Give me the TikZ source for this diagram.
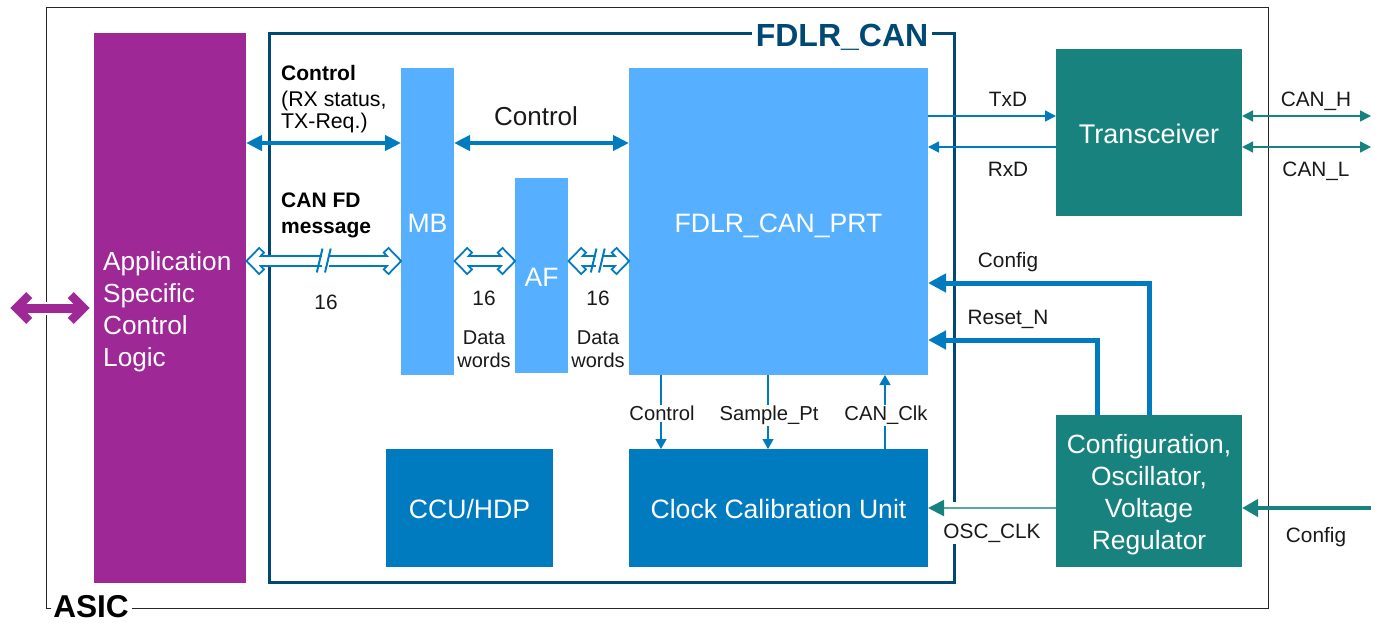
\documentclass[tikz,border=0pt]{standalone}
\usepackage{fontspec}
\setmainfont{Liberation Sans}
\usetikzlibrary{arrows.meta,calc}
\definecolor{lblue}{HTML}{56B0FF}
\definecolor{mblue}{HTML}{007BC0}
\definecolor{dblue}{HTML}{004975}
\definecolor{turq}{HTML}{18837E}
\definecolor{lturq}{HTML}{5AA8A4}
\definecolor{purp}{HTML}{9E2896}
\newcommand{\fs}[1]{\fontsize{#1}{#1}\selectfont}
\newcommand{\lo}[2][10.5pt]{\raisebox{-#1}[0pt][0pt]{#2}}
\newcommand{\hollowarrow}[2]{%
  \draw[mblue,line width=12.5pt] ([xshift=14]#1) -- ([xshift=-14]#2);
  \draw[mblue,line width=8.5pt,line join=miter] ([shift={(17,-11.3)}]#1) -- ([shift={(6,0)}]#1) -- ([shift={(17,11.3)}]#1);
  \draw[mblue,line width=8.5pt,line join=miter] ([shift={(-17,-11.3)}]#2) -- ([shift={(-6,0)}]#2) -- ([shift={(-17,11.3)}]#2);
  \draw[white,line width=4.6pt,line join=miter] ([shift={(15.7,-10)}]#1) -- ([shift={(6,0)}]#1) -- ([shift={(15.7,10)}]#1);
  \draw[white,line width=4.6pt,line join=miter] ([shift={(-15.7,-10)}]#2) -- ([shift={(-6,0)}]#2) -- ([shift={(-15.7,10)}]#2);
  \draw[white,line width=7.6pt] ([xshift=7]#1) -- ([xshift=-7]#2);
}
\newcommand{\slashes}[1]{%
  \fill[white] ([shift={(-3.5,-8)}]#1) rectangle ([shift={(3.5,8)}]#1);
  \draw[mblue,line width=2pt] ([shift={(-8.2,11.5)}]#1) -- ([shift={(-2.5,-12.5)}]#1);
  \draw[mblue,line width=2pt] ([shift={(0,11.5)}]#1) -- ([shift={(5.7,-12.5)}]#1);
}
\tikzset{
  block/.style={anchor=north west,inner sep=0pt,outer sep=0pt,text=white,align=center,font=\fs{26.6}},
  frameline/.style={draw,inner sep=0pt,outer sep=0pt,anchor=north west,fill=none},
  lab/.style={inner sep=0pt,anchor=mid,font=\fs{20.8},text=black!90},
  wlab/.style={lab,fill=white,inner sep=1.5pt,font=\fs{20.2}},
  thin/.style={line width=1.5pt,mblue,-{Triangle[length=11pt,width=11pt]}},
  thinv/.style={line width=1.3pt,mblue,-{Triangle[length=10pt,width=11pt]}},
  can/.style={line width=1.5pt,turq,{Triangle[length=11pt,width=11pt]}-{Triangle[length=11pt,width=11pt]}},
  ctl/.style={line width=4pt,mblue,{Triangle[length=16pt,width=15pt]}-{Triangle[length=16pt,width=15pt]}},
  fat/.style={line width=5pt,mblue,-{Triangle[length=18pt,width=18pt]}},
}
\begin{document}
\begin{tikzpicture}[x=1pt,y=-1pt]
\useasboundingbox (0,0) rectangle (1375,622);
% frames
\node[frameline,black!85,line width=0.9pt,minimum width=1222pt,minimum height=601pt] (asic) at (46,7) {};
\node[frameline,dblue,line width=3pt,minimum width=685pt,minimum height=549.5pt] (fdlr) at (269,33) {};
% blocks
\node[block,fill=purp,minimum width=152pt,minimum height=550pt] (logic) at (94,33) {};
\node[anchor=west,inner sep=0pt,text=white,align=left,font=\fontsize{26.2}{32}\selectfont] (logictext) at (103,312) {Application\\Specific\\Control\\Logic};
\node[block,fill=lblue,minimum width=53pt,minimum height=307pt] (mb) at (401,68) {\lo{MB}};
\node[block,fill=lblue,minimum width=53pt,minimum height=195pt] (af) at (515,178) {\lo[11pt]{AF}};
\node[block,fill=lblue,minimum width=299pt,minimum height=307pt] (prt) at (629,68) {\lo{FDLR\_CAN\_PRT}};
\node[block,fill=mblue,minimum width=167pt,minimum height=118pt] (ccu) at (386,449) {\lo{CCU/HDP}};
\node[block,fill=mblue,minimum width=299pt,minimum height=118pt] (ccal) at (629,449) {\lo{Clock Calibration Unit}};
\node[block,fill=turq,minimum width=186pt,minimum height=167pt,font=\fs{27}] (trx) at (1056,49) {\lo[11.3pt]{Transceiver}};
\node[block,fill=turq,minimum width=186pt,minimum height=152pt] (cfg) at (1056,415) {};
\node[inner sep=0pt,text=white,align=center,font=\fontsize{26.4}{32}\selectfont] (cfgtext) at (1149,495) {Configuration,\\Oscillator,\\Voltage\\Regulator};
% helper coordinates
\coordinate (yctl) at (0,143);
\coordinate (ymsg) at (0,261);
\coordinate (ytx) at (0,116);
\coordinate (yrx) at (0,147);
\coordinate (yconf) at (0,283);
\coordinate (yrst) at (0,340);
\coordinate (yosc) at (0,508);
\coordinate (xctl) at (661,0);
\coordinate (xspl) at (768,0);
\coordinate (xclk) at (885,0);
\coordinate (xconf) at (1149,0);
\coordinate (xrst) at (1097,0);
\coordinate (pl) at (10,308);
\coordinate (pr) at (90,308);
\coordinate (rightend) at (1371,0);
\coordinate (gapa) at (0,502);
\coordinate (gapb) at (0,544);
\coordinate (mk1) at (325,261);
\coordinate (mk2) at (599,261);
\coordinate (ba) at ([xshift=-0.8]logic.east |- ymsg);
\coordinate (bb) at ([xshift=1.5]mb.west |- ymsg);
\coordinate (bc) at ([xshift=-0.8]mb.east |- ymsg);
\coordinate (bd) at ([xshift=1.5]af.west |- ymsg);
\coordinate (be) at ([xshift=-0.8]af.east |- ymsg);
\coordinate (bf) at ([xshift=1.5]prt.west |- ymsg);
% frame gap at OSC_CLK
\draw[white,line width=5pt] (fdlr.east |- gapa) -- (fdlr.east |- gapb);
% connectors
\draw[ctl] (logic.east |- yctl) -- (mb.west |- yctl);
\draw[ctl] (mb.east |- yctl) -- (prt.west |- yctl);
\draw[thin] (prt.east |- ytx) -- (trx.west |- ytx);
\draw[thin] (trx.west |- yrx) -- (prt.east |- yrx);
\draw[can] (trx.east |- ytx) -- (rightend |- ytx);
\draw[can] (trx.east |- yrx) -- (rightend |- yrx);
\draw[fat] (xconf |- cfg.north) -- (xconf |- yconf) -- (prt.east |- yconf);
\draw[fat] (xrst |- cfg.north) -- (xrst |- yrst) -- (prt.east |- yrst);
\draw[thinv] (xctl |- prt.south) -- (xctl |- ccal.north);
\draw[thinv] (xspl |- prt.south) -- (xspl |- ccal.north);
\draw[thinv] (xclk |- ccal.north) -- (xclk |- prt.south);
\draw[line width=2pt,lturq,-{Triangle[length=16pt,width=16pt,color=turq]}] (cfg.west |- yosc) -- (ccal.east |- yosc);
\draw[line width=4pt,turq,-{Triangle[length=16pt,width=17pt]}] (rightend |- yosc) -- (cfg.east |- yosc);
% hollow bus arrows
\hollowarrow{ba}{bb}
\hollowarrow{bc}{bd}
\hollowarrow{be}{bf}
\slashes{mk1}
\slashes{mk2}
% external purple arrow
\draw[white,line width=13pt] ([xshift=20]pl) -- ([xshift=-20]pr);
\draw[purp,line width=9pt] ([xshift=6]pl) -- ([xshift=-6]pr);
\draw[purp,line width=8.6pt,line join=miter] ([shift={(19.3,-12.9)}]pl) -- ([shift={(6.4,0)}]pl) -- ([shift={(19.3,12.9)}]pl);
\draw[purp,line width=8.6pt,line join=miter] ([shift={(-19.3,-12.9)}]pr) -- ([shift={(-6.4,0)}]pr) -- ([shift={(-19.3,12.9)}]pr);
% frame titles
\node[inner sep=0pt,fill=white,minimum width=180pt,font=\fs{32}\bfseries,text=dblue,anchor=mid] (fdlrlab) at (842,44) {FDLR\_CAN};
\node[inner sep=0pt,fill=white,minimum width=81pt,font=\fs{31.6}\bfseries,text=black,anchor=mid] (asiclab) at (91,615) {ASIC};
% labels
\node[anchor=mid west,inner sep=0pt,font=\fs{21}\bfseries] (l1) at (281,78) {Control};
\node[anchor=mid west,inner sep=0pt,font=\fs{21.3}] (l2) at (281,104) {(RX status,};
\node[anchor=mid west,inner sep=0pt,font=\fs{21.3}] (l3) at (281,126) {TX-Req.)};
\node[anchor=mid west,inner sep=0pt,font=\fs{21}\bfseries] (l4) at (281,205) {CAN FD};
\node[anchor=mid west,inner sep=0pt,font=\fs{21}\bfseries] (l5) at (281,231) {message};
\node[lab,font=\fs{26}] (l6) at (536,123) {Control};
\node[lab] (n1) at (326,307) {16};
\node[lab] (n2) at (484,303) {16};
\node[lab] (n3) at (598,303) {16};
\node[lab,font=\fs{20}] (d1) at (484,342) {Data};
\node[lab,font=\fs{20}] (w1) at (484,365) {words};
\node[lab,font=\fs{20}] (d2) at (598,342) {Data};
\node[lab,font=\fs{20}] (w2) at (598,365) {words};
\node[lab] (txd) at (1008,104) {TxD};
\node[lab] (rxd) at (1008,174) {RxD};
\node[lab] (canh) at (1316,104) {CAN\_H};
\node[lab] (canl) at (1316,174) {CAN\_L};
\node[lab] (conf1) at (1008,265) {Config};
\node[lab] (rstn) at (1008,322) {Reset\_N};
\node[wlab] (cctl) at (662,418) {Control};
\node[wlab] (cspl) at (769,418) {Sample\_Pt};
\node[wlab] (cclk) at (886,418) {CAN\_Clk};
\node[lab] (osc) at (992,536) {OSC\_CLK};
\node[lab] (conf2) at (1316,540) {Config};
\end{tikzpicture}
\end{document}
